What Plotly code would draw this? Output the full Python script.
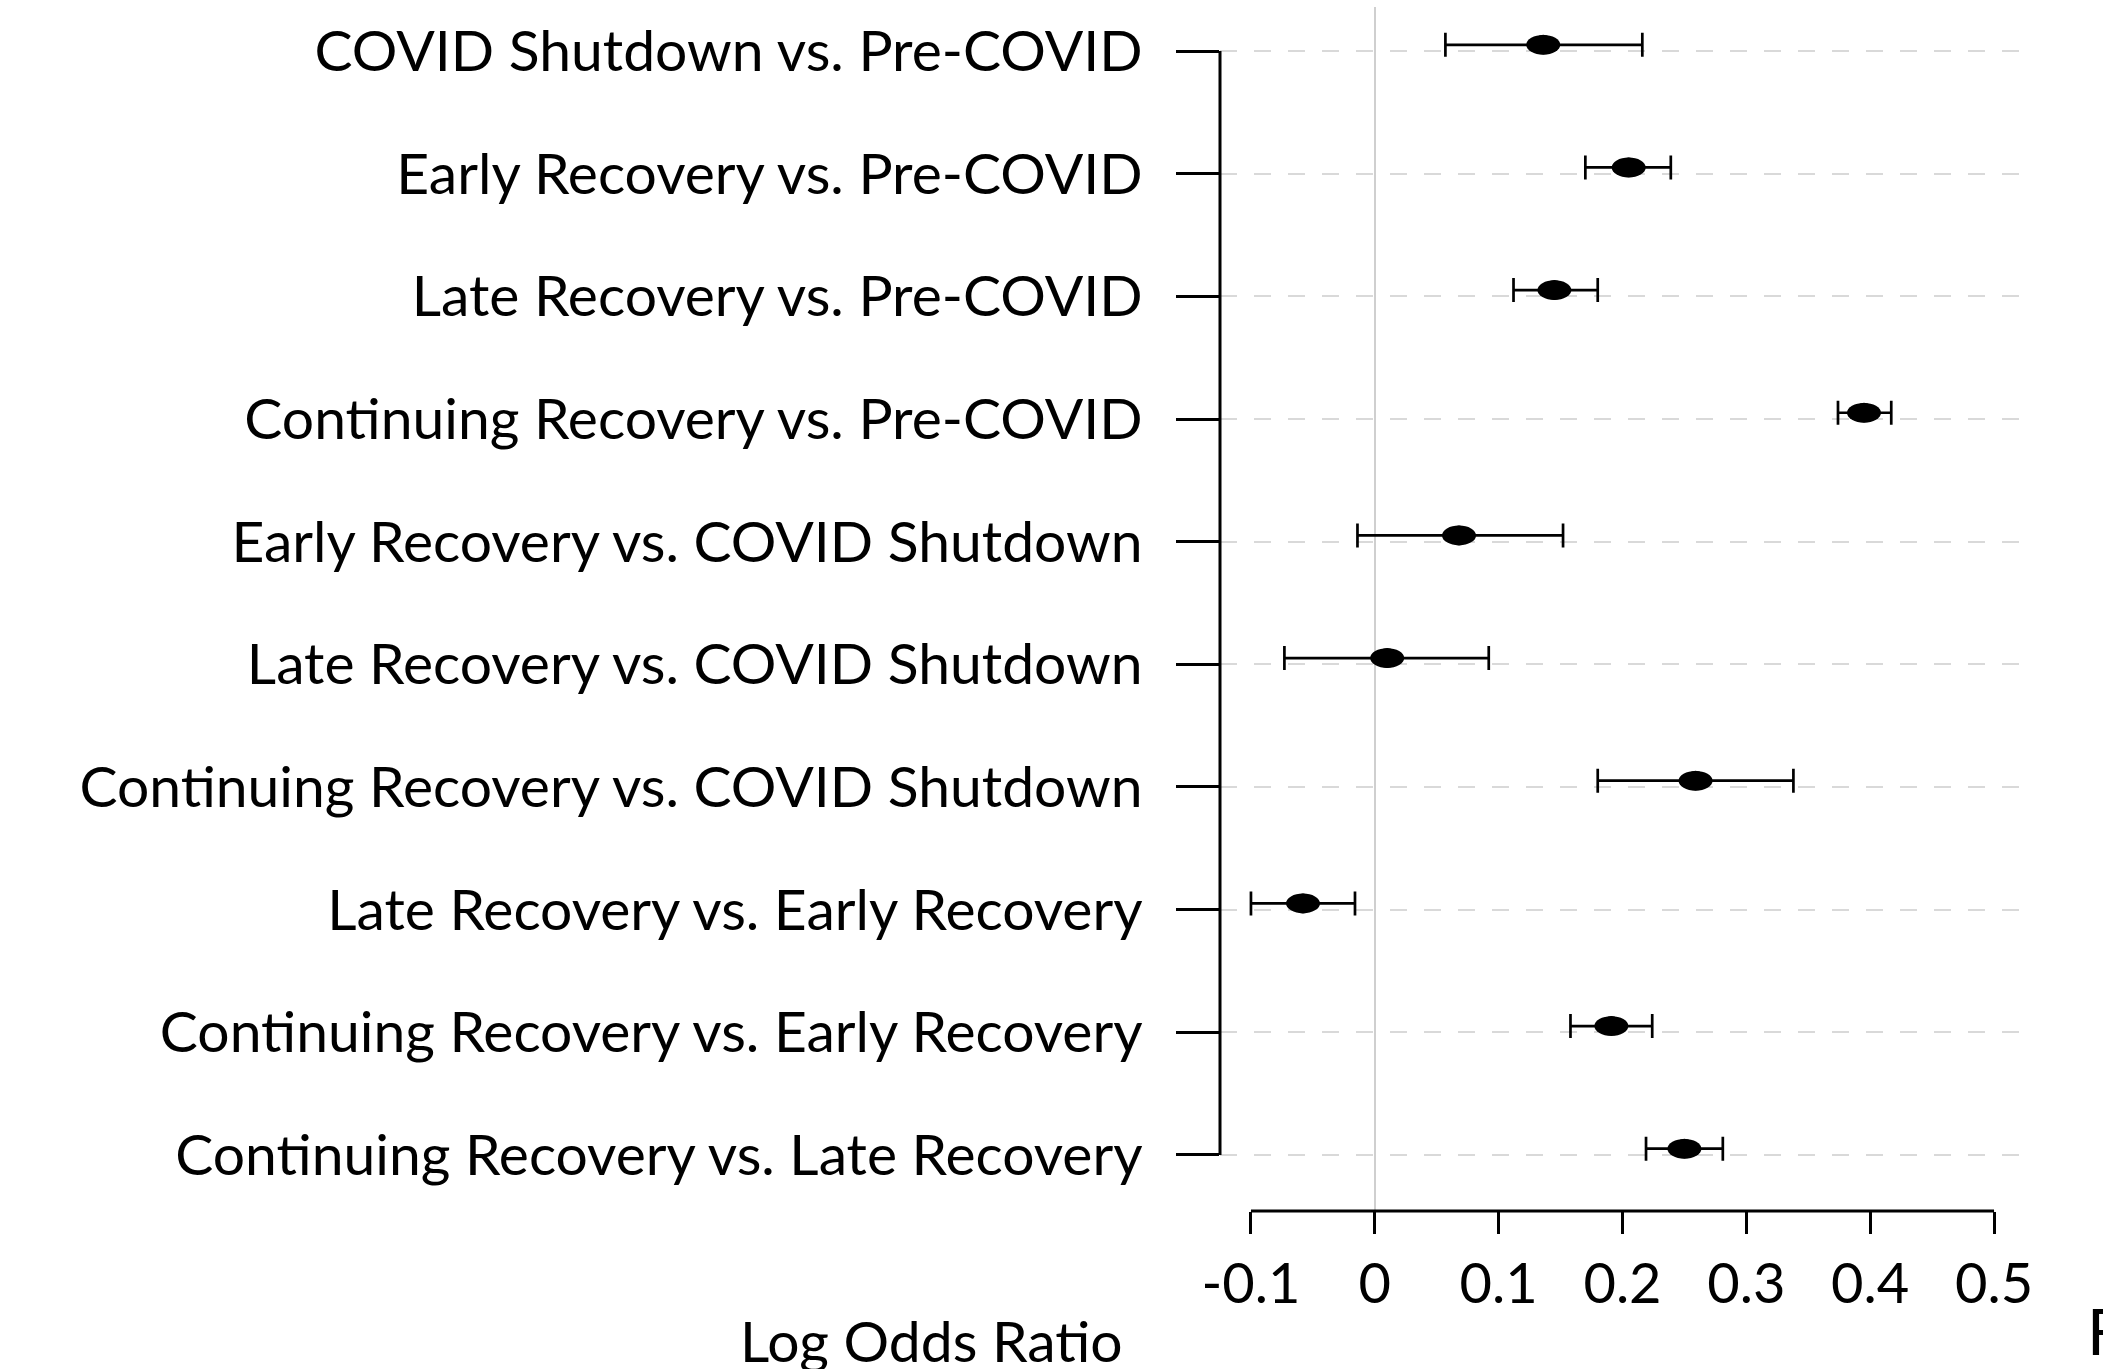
import plotly.graph_objects as go

categories = [
    "COVID Shutdown vs. Pre-COVID",
    "Early Recovery vs. Pre-COVID",
    "Late Recovery vs. Pre-COVID",
    "Continuing Recovery vs. Pre-COVID",
    "Early Recovery vs. COVID Shutdown",
    "Late Recovery vs. COVID Shutdown",
    "Continuing Recovery vs. COVID Shutdown",
    "Late Recovery vs. Early Recovery",
    "Continuing Recovery vs. Early Recovery",
    "Continuing Recovery vs. Late Recovery",
]
estimate = [0.136, 0.205, 0.145, 0.395, 0.068, 0.010, 0.259, -0.058, 0.191, 0.250]
lower = [0.057, 0.170, 0.112, 0.374, -0.014, -0.073, 0.180, -0.100, 0.158, 0.219]
upper = [0.216, 0.239, 0.180, 0.417, 0.152, 0.092, 0.338, -0.016, 0.224, 0.281]
x_ticks = [-0.1, 0.0, 0.1, 0.2, 0.3, 0.4, 0.5]
x_ticktext = ["-0.1", "0", "0.1", "0.2", "0.3", "0.4", "0.5"]

FONT = "Lato, 'Liberation Sans', sans-serif"
n = len(categories)

fig = go.Figure()

fig.add_trace(go.Scatter(
    x=estimate, y=categories, yaxis="y2", mode="markers",
    marker=dict(symbol="circle", size=20, color="black"),
    error_x=dict(type="data", symmetric=False,
                 array=[u - e for u, e in zip(upper, estimate)],
                 arrayminus=[e - l for e, l in zip(estimate, lower)],
                 color="black", thickness=2.7, width=12),
    showlegend=False, hoverinfo="x+y",
))

shapes = []
# elliptical point markers (horizontal stretch), in data coordinates
for i, e in enumerate(estimate):
    shapes.append(dict(type="circle", xref="x", yref="y2",
                       x0=e - 0.0137, x1=e + 0.0137, y0=i - 0.08, y1=i + 0.08,
                       fillcolor="black", line=dict(color="black", width=0), layer="above"))
# y axis line spanning first to last row
shapes.append(dict(type="line", xref="paper", yref="y", x0=0, x1=0, y0=0, y1=n - 1,
                   line=dict(color="black", width=3)))
# x axis line spanning the tick range
shapes.append(dict(type="line", xref="x", yref="paper", x0=x_ticks[0], x1=x_ticks[-1], y0=0, y1=0,
                   line=dict(color="black", width=3)))

yrange = [n - 1 + 0.457, -0.359]
shift = 0.051

fig.update_layout(
    width=2103, height=1369,
    margin=dict(l=1220, r=78, t=7, b=158),
    paper_bgcolor="white", plot_bgcolor="white",
    font=dict(family=FONT, color="black", size=57),
    xaxis=dict(range=[-0.125, 0.525], tickvals=x_ticks, ticktext=x_ticktext,
               ticks="outside", ticklen=22, tickwidth=3, tickcolor="black",
               showline=False, showgrid=False,
               zeroline=True, zerolinecolor="#cfcfcf", zerolinewidth=2,
               tickfont=dict(size=56, family=FONT), ticklabelstandoff=2),
    yaxis=dict(type="category", categoryorder="array", categoryarray=categories,
               range=yrange, ticks="outside", ticklen=43, tickwidth=3, tickcolor="black",
               showline=False, showgrid=True, gridcolor="#d9d9d9", gridwidth=2,
               griddash="17px,17px", zeroline=False,
               tickfont=dict(size=57, family=FONT), ticklabelstandoff=22),
    yaxis2=dict(type="category", categoryorder="array", categoryarray=categories,
                overlaying="y", range=[yrange[0] + shift, yrange[1] + shift],
                visible=False, showgrid=False),
    shapes=shapes,
    annotations=[
        dict(text="Log Odds Ratio", xref="paper", yref="paper", x=(931 - 1220) / 805, y=-0.077,
             xanchor="center", yanchor="top", showarrow=False,
             font=dict(size=57, family=FONT)),
        dict(text="F", xref="paper", yref="paper", x=(2085 - 1220) / 805, y=-0.066,
             xanchor="left", yanchor="top", showarrow=False,
             font=dict(size=64, family=FONT)),
    ],
)

fig.write_html("out.html")
